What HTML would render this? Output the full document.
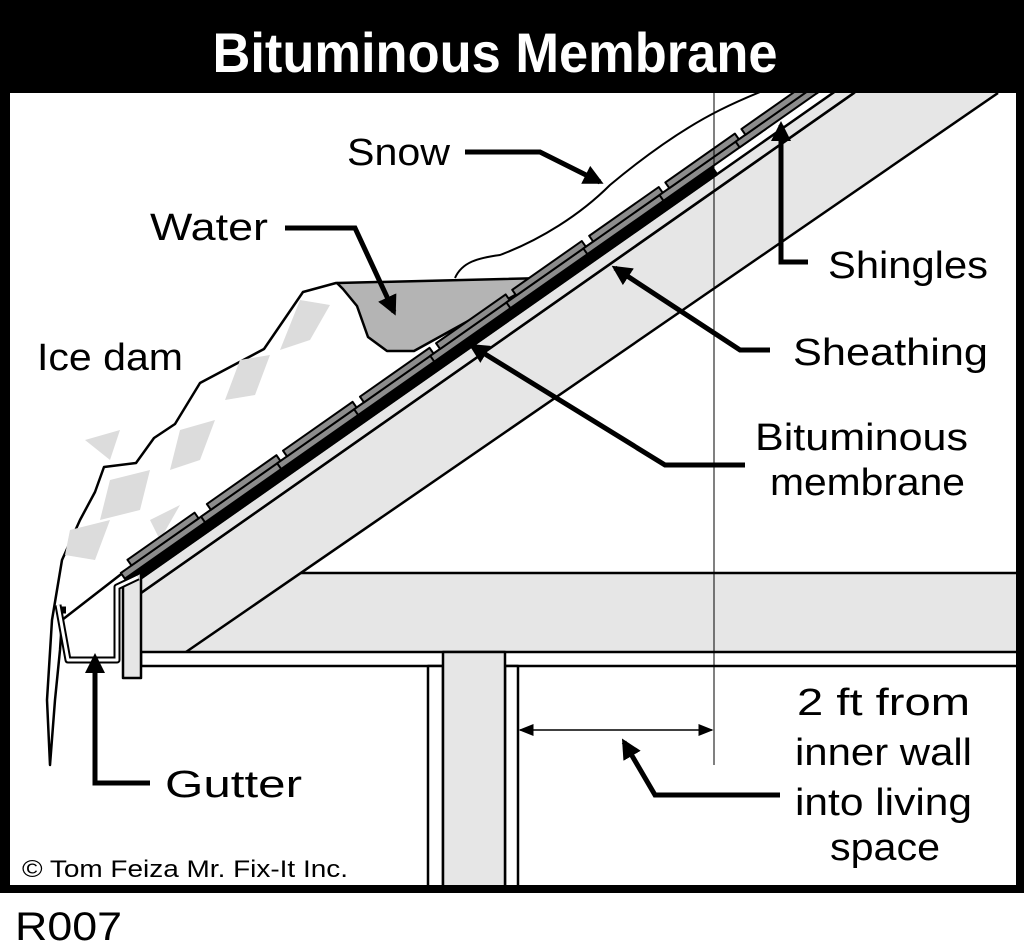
<!DOCTYPE html>
<html><head><meta charset="utf-8"><style>
html,body{margin:0;padding:0;background:#fff;width:1024px;height:945px;overflow:hidden}
svg{display:block}
text{font-family:"Liberation Sans",sans-serif;fill:#000}
</style></head><body>
<svg width="1024" height="945" viewBox="0 0 1024 945" xmlns="http://www.w3.org/2000/svg">
<defs>
<clipPath id="c"><rect x="10" y="93" width="1006" height="792"/></clipPath>
<marker id="ah" viewBox="0 0 10 10" refX="8" refY="5" markerWidth="4" markerHeight="4" orient="auto"><path d="M0,0 L10,5 L0,10 z" fill="#000"/></marker>
<marker id="th" viewBox="0 0 10 10" refX="9" refY="5" markerWidth="10" markerHeight="10" orient="auto-start-reverse"><path d="M0,1 L10,5 L0,9 z" fill="#000"/></marker>
</defs>
<rect x="0" y="0" width="1024" height="893" fill="#000"/>
<rect x="10" y="93" width="1006" height="792" fill="#fff"/>
<text x="495" y="72" text-anchor="middle" font-size="56" font-weight="bold" style="fill:#fff;font-family:'Liberation Sans Narrow','Liberation Sans',sans-serif" textLength="565" lengthAdjust="spacingAndGlyphs">Bituminous Membrane</text>
<g clip-path="url(#c)" stroke="#000" stroke-width="2.5" stroke-linejoin="round">
 <!-- joist -->
 <rect x="141" y="573" width="900" height="79" fill="#e6e6e6" stroke="none"/>
 <line x1="296" y1="573" x2="1020" y2="573"/>
 <!-- rafter -->
 <polygon points="141,593 854,93 998,93 186,652 141,652" fill="#e6e6e6" stroke="none"/>
 <line x1="141" y1="593" x2="854" y2="93"/>
 <line x1="998" y1="93" x2="186" y2="652"/>
 <!-- drywall band -->
 <rect x="141" y="652" width="900" height="14" fill="#fff"/>
 <!-- post -->
 <rect x="428" y="666" width="15" height="230" fill="#fff"/>
 <rect x="505" y="666" width="13" height="230" fill="#fff"/>
 <rect x="443" y="652" width="62" height="240" fill="#e6e6e6"/>
 <!-- ice dam -->
 <polygon points="336,283 303,292 264,349 200,383 175,424 154,438 136,463 104,467 95,492 80,520 62,560 52,620 47,700 50,765 55,700 60,650 62,620 120,575 330,430 420,368 480,330 520,300" fill="#fff"/>
 <g fill="#dcdcdc" stroke="none">
  <polygon points="300,300 330,305 310,340 280,350"/>
  <polygon points="240,360 270,355 255,395 225,400"/>
  <polygon points="180,430 215,420 200,460 170,470"/>
  <polygon points="110,480 150,470 140,510 100,520"/>
  <polygon points="70,530 110,520 95,560 65,555"/>
  <polygon points="85,440 120,430 110,460"/>
  <polygon points="150,520 180,505 160,540"/>
 </g>
 <!-- water -->
 <polygon points="337,283 546,278 414,351 387,351 368,337 357,306 343,289" fill="#b4b4b4"/>
 <!-- snow -->
 <path d="M455,278 C462,262 478,258 500,255 C540,240 580,215 610,185 C640,160 680,130 720,110 C740,100 755,94 765,90" fill="none" stroke-width="2"/>
 <!-- roofing layers in rotated frame -->
 <g transform="translate(141,593) rotate(-35.05)">
  <rect x="-2" y="-12" width="1000" height="12" fill="#e6e6e6"/>
  <rect x="-2" y="-21" width="714" height="9" fill="#000"/>
  <g fill="#8c8c8c" stroke-width="2">
   <rect x="-5" y="-28" width="125" height="7"/><rect x="8" y="-35" width="82" height="7"/>
   <rect x="93" y="-28" width="125" height="7"/><rect x="105" y="-35" width="85" height="7"/>
   <rect x="186" y="-28" width="125" height="7"/><rect x="198" y="-35" width="85" height="7"/>
   <rect x="280" y="-28" width="125" height="7"/><rect x="292" y="-35" width="85" height="7"/>
   <rect x="373" y="-28" width="125" height="7"/><rect x="385" y="-35" width="85" height="7"/>
   <rect x="466" y="-28" width="125" height="7"/><rect x="478" y="-35" width="85" height="7"/>
   <rect x="560" y="-28" width="125" height="7"/><rect x="572" y="-35" width="85" height="7"/>
   <rect x="653" y="-28" width="125" height="7"/><rect x="665" y="-35" width="85" height="7"/>
   <rect x="746" y="-28" width="125" height="7"/><rect x="758" y="-35" width="85" height="7"/>
   <rect x="840" y="-28" width="125" height="7"/><rect x="852" y="-35" width="85" height="7"/>
  </g>
 </g>
 <!-- fascia -->
 <polygon points="123,583 141,572 141,678 123,678" fill="#e6e6e6"/>
 <!-- gutter -->
 <path d="M56,610 L66,610 M58,605 L68,660 L117,660 L117,587 L138,577" fill="none" stroke="#000" stroke-width="7"/>
 <path d="M58,605 L68,660 L117,660 L117,587 L138,577" fill="none" stroke="#fff" stroke-width="3"/>
 <!-- vertical reference line -->
 <line x1="714" y1="93" x2="714" y2="765" stroke-width="1"/>
 <!-- dimension line -->
 <line x1="520" y1="730" x2="712" y2="730" stroke-width="1.5" marker-start="url(#th)" marker-end="url(#th)"/>
</g>
<!-- leader arrows -->
<g fill="none" stroke="#000" stroke-width="5" stroke-linejoin="miter">
 <polyline points="465,152 540,152 600,182" marker-end="url(#ah)"/>
 <polyline points="285,228 355,228 394,312" marker-end="url(#ah)"/>
 <polyline points="808,262 781,262 781,125" marker-end="url(#ah)"/>
 <polyline points="770,350 740,350 615,268" marker-end="url(#ah)"/>
 <polyline points="745,465 665,465 472,346" marker-end="url(#ah)"/>
 <polyline points="150,783 95,783 95,657" marker-end="url(#ah)"/>
 <polyline points="780,795 655,795 624,742" marker-end="url(#ah)"/>
</g>
<g font-size="38">
 <text x="347" y="165" textLength="103" lengthAdjust="spacingAndGlyphs">Snow</text>
 <text x="150" y="240" textLength="118" lengthAdjust="spacingAndGlyphs">Water</text>
 <text x="37" y="370" textLength="146" lengthAdjust="spacingAndGlyphs">Ice dam</text>
 <text x="828" y="278" textLength="160" lengthAdjust="spacingAndGlyphs">Shingles</text>
 <text x="793" y="365" textLength="195" lengthAdjust="spacingAndGlyphs">Sheathing</text>
 <text x="755" y="450" textLength="213" lengthAdjust="spacingAndGlyphs">Bituminous</text>
 <text x="770" y="495" textLength="195" lengthAdjust="spacingAndGlyphs">membrane</text>
 <text x="797" y="715" textLength="173" lengthAdjust="spacingAndGlyphs">2 ft from</text>
 <text x="795" y="765" textLength="177" lengthAdjust="spacingAndGlyphs">inner wall</text>
 <text x="795" y="815" textLength="177" lengthAdjust="spacingAndGlyphs">into living</text>
 <text x="830" y="860" textLength="110" lengthAdjust="spacingAndGlyphs">space</text>
 <text x="165" y="797" textLength="137" lengthAdjust="spacingAndGlyphs">Gutter</text>
</g>
<text x="22" y="877" font-size="24" textLength="326" lengthAdjust="spacingAndGlyphs">© Tom Feiza Mr. Fix-It Inc.</text>
<text x="15" y="940" font-size="40" textLength="107" lengthAdjust="spacingAndGlyphs" style="font-weight:normal">R007</text>
</svg>
</body></html>
